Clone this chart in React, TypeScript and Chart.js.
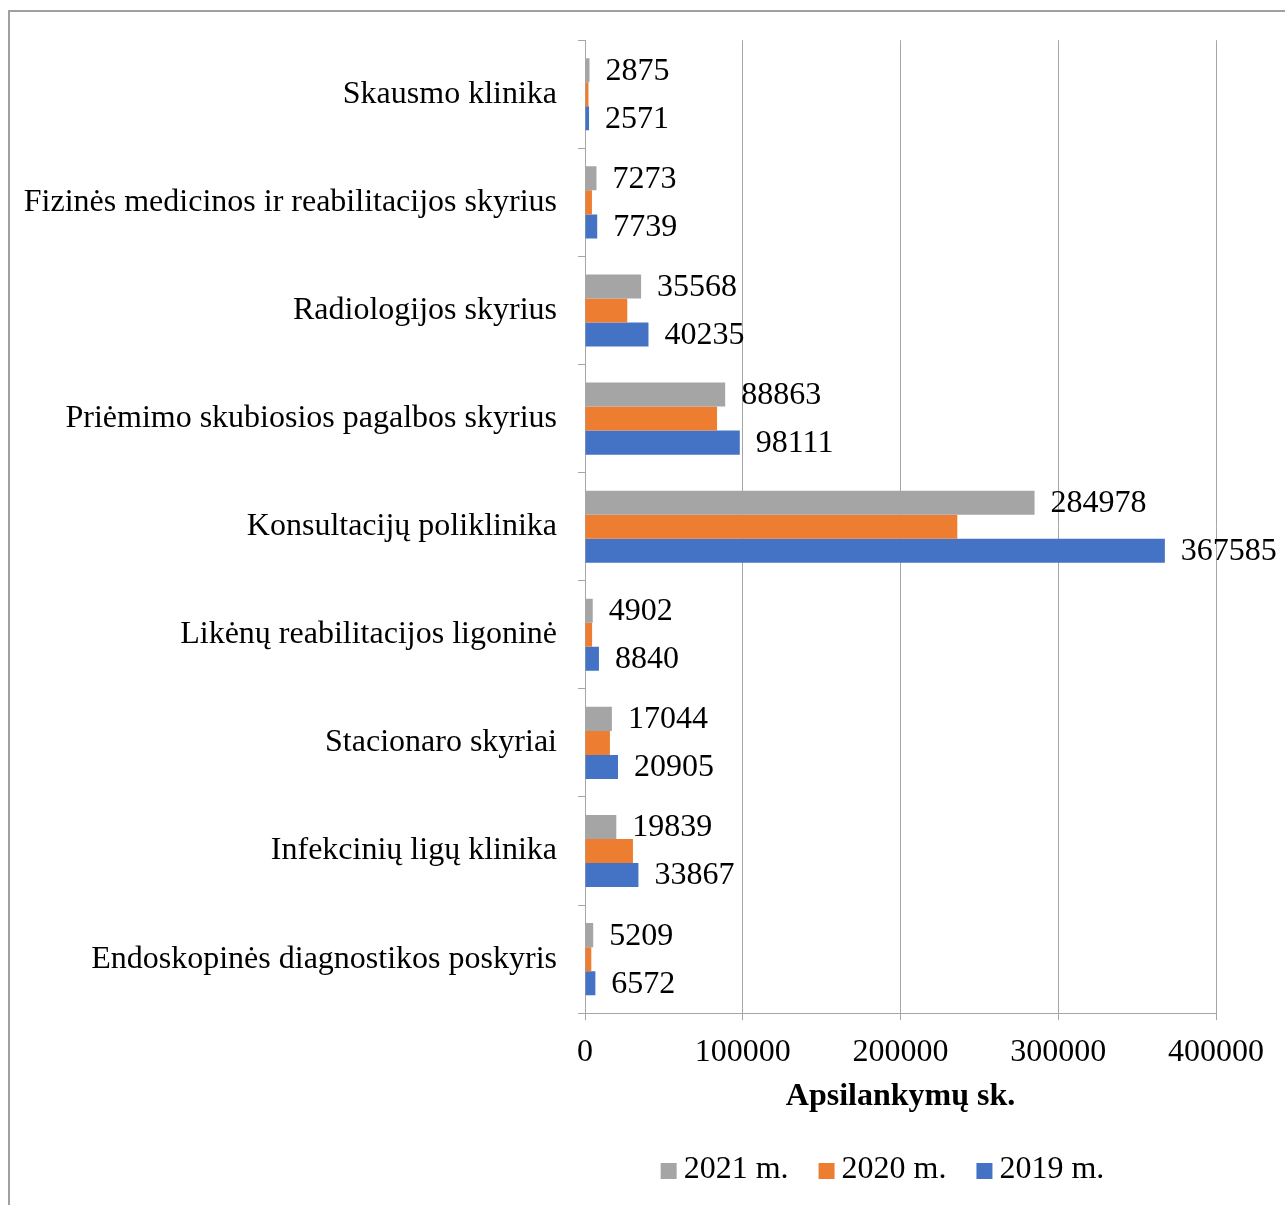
import React, { useEffect, useRef } from "react";
import { Chart, registerables } from "chart.js";
Chart.register(...registerables);

const categories = [
  "Skausmo klinika",
  "Fizinės medicinos ir reabilitacijos skyrius",
  "Radiologijos skyrius",
  "Priėmimo skubiosios pagalbos skyrius",
  "Konsultacijų poliklinika",
  "Likėnų reabilitacijos ligoninė",
  "Stacionaro skyriai",
  "Infekcinių ligų klinika",
  "Endoskopinės diagnostikos poskyris",
];
const series2021 = [2875, 7273, 35568, 88863, 284978, 4902, 17044, 19839, 5209];
const series2020 = [2200, 4400, 26800, 83700, 236000, 4500, 15800, 30400, 4000];
const series2019 = [2571, 7739, 40235, 98111, 367585, 8840, 20905, 33867, 6572];
const seriesNames = ["2021 m.", "2020 m.", "2019 m."];
const seriesColors = ["#A5A5A5", "#ED7D31", "#4472C4"];
const xMin = 0;
const xMax = 400000;
const xStep = 100000;
const xTitle = "Apsilankymų sk.";

const FONT = "'Liberation Serif', 'Times New Roman', serif";
const GRID = "#a6a6a6";

const labelPlugin = {
  id: "barLabels",
  afterDatasetsDraw(chart: any) {
    const ctx = chart.ctx;
    ctx.save();
    ctx.font = `32px ${FONT}`;
    ctx.fillStyle = "#000";
    ctx.textBaseline = "middle";
    ctx.textAlign = "left";
    chart.data.datasets.forEach((ds: any, i: number) => {
      if (!ds.showLabels) return;
      const meta = chart.getDatasetMeta(i);
      meta.data.forEach((el: any, j: number) => {
        ctx.fillText(String(ds.data[j]), el.x + 16, el.y + 1);
      });
    });
    ctx.restore();
  },
};

const legendPlugin = {
  id: "customLegend",
  afterDraw(chart: any) {
    const ctx = chart.ctx;
    const box = 16;
    const gapText = 7;
    const gapItem = 30;
    ctx.save();
    ctx.font = `32px ${FONT}`;
    ctx.textBaseline = "middle";
    ctx.textAlign = "left";
    const items = chart.data.datasets.map((ds: any) => ({
      label: ds.label,
      color: ds.backgroundColor,
      w: ctx.measureText(ds.label).width,
    }));
    const total =
      items.reduce((s: number, it: any) => s + box + gapText + it.w, 0) + gapItem * (items.length - 1);
    const ca = chart.chartArea;
    const center = (ca.left + ca.right) / 2 - 18;
    let x = center - total / 2;
    const y = 1170;
    items.forEach((it: any) => {
      ctx.fillStyle = it.color;
      ctx.fillRect(x, y - box / 2 + 1, box, box);
      ctx.fillStyle = "#000";
      ctx.fillText(it.label, x + box + gapText, y);
      x += box + gapText + it.w + gapItem;
    });
    ctx.restore();
  },
};

export default function App() {
  const ref = useRef<HTMLCanvasElement>(null);
  useEffect(() => {
    if (!ref.current) return;
    const chart = new Chart(ref.current, {
      type: "bar",
      data: {
        labels: categories,
        datasets: [
          { label: seriesNames[0], data: series2021, backgroundColor: seriesColors[0], showLabels: true } as any,
          { label: seriesNames[1], data: series2020, backgroundColor: seriesColors[1], showLabels: false } as any,
          { label: seriesNames[2], data: series2019, backgroundColor: seriesColors[2], showLabels: true } as any,
        ],
      },
      options: {
        indexAxis: "y",
        responsive: false,
        animation: false,
        devicePixelRatio: 1,
        datasets: { bar: { categoryPercentage: 0.667, barPercentage: 1, borderWidth: 0 } },
        layout: { padding: { top: 40, right: 69, bottom: 89, left: 0 } },
        scales: {
          x: {
            min: xMin,
            max: xMax,
            ticks: {
              stepSize: xStep,
              color: "#000",
              font: { family: FONT, size: 32 },
              padding: 13,
              maxRotation: 0,
              callback: (v: any) => String(v),
            },
            grid: { color: GRID, tickLength: 7, drawTicks: true, tickColor: GRID },
            border: { color: GRID },
            title: {
              display: true,
              text: xTitle,
              color: "#000",
              font: { family: FONT, size: 32, weight: "bold" },
              padding: { top: -7, bottom: 0 },
            },
          },
          y: {
            ticks: { color: "#000", font: { family: FONT, size: 32 }, padding: 21 },
            grid: { drawOnChartArea: false, drawTicks: true, tickLength: 7, color: GRID, offset: true },
            border: { color: GRID },
            afterFit: (scale: any) => {
              scale.width = 585;
            },
          },
        },
        plugins: {
          legend: { display: false },
          tooltip: { enabled: false },
        },
      },
      plugins: [labelPlugin, legendPlugin],
    } as any);
    return () => chart.destroy();
  }, []);
  return (
    <div style={{ position: "absolute", left: 0, top: 0, width: 1285, height: 1205, overflow: "hidden", background: "#fff" }}>
      <div
        style={{
          position: "absolute",
          left: 8,
          top: 10,
          right: 0,
          bottom: 0,
          borderLeft: "2px solid #a0a0a0",
          borderTop: "2px solid #a0a0a0",
        }}
      />
      <canvas ref={ref} width={1285} height={1205} style={{ position: "absolute", left: 0, top: 0 }} />
    </div>
  );
}
